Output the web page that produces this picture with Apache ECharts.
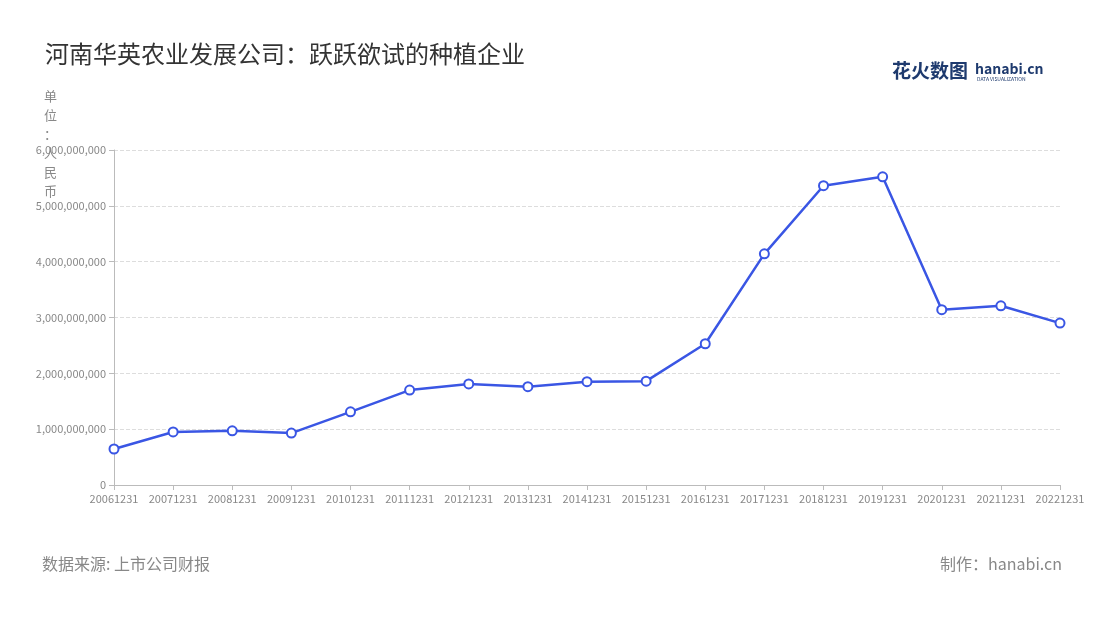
<!DOCTYPE html>
<html><head><meta charset="utf-8">
<script src="https://cdn.jsdelivr.net/npm/echarts@6/dist/echarts.min.js"></script>
<style>html,body{margin:0;background:#fff}#c{width:1100px;height:620px}</style>
</head><body><div id="c"></div>
<script>
const categories = ['20061231','20071231','20081231','20091231','20101231','20111231','20121231','20131231','20141231','20151231','20161231','20171231','20181231','20191231','20201231','20211231','20221231'];
const values = [645e6,950e6,970e6,930e6,1310e6,1700e6,1810e6,1760e6,1850e6,1860e6,2530e6,4140e6,5360e6,5520e6,3140e6,3210e6,2900e6];
const yTicks = {min:0,max:6e9,interval:1e9};
const chart = echarts.init(document.getElementById('c'));
const font = "'Noto Sans CJK SC','Noto Sans',sans-serif";
chart.setOption({
  textStyle:{fontFamily:font},
  title:{text:'河南华英农业发展公司：跃跃欲试的种植企业',left:40,top:37,textStyle:{fontSize:24,fontWeight:'normal',color:'#333',fontFamily:font}},
  graphic:[
    {type:'text',left:44,top:87,style:{text:'单\n位\n：\n人\n民\n币',fill:'#888',fontSize:13,lineHeight:19,fontFamily:font}},
    {type:'text',left:42,top:556,style:{text:'数据来源: 上市公司财报',fill:'#888',fontSize:16,fontFamily:font}},
    {type:'text',right:38,top:556,style:{text:'制作：hanabi.cn',fill:'#888',fontSize:16,fontFamily:font}},
    {type:'text',left:892,top:61,style:{text:'花火数图',fill:'#1e3a6e',fontSize:19,fontWeight:'bold',fontFamily:font}},
    {type:'text',left:975,top:62,style:{text:'hanabi.cn',fill:'#1e3a6e',fontSize:14,fontWeight:'bold',fontFamily:font}},
    {type:'text',left:977,top:77,style:{text:'DATA VISUALIZATION',fill:'#1e3a6e',fontSize:5,fontFamily:font}}
  ],
  grid:{left:114,right:40,top:150,bottom:135},
  xAxis:{type:'category',data:categories,boundaryGap:false,
    axisLine:{lineStyle:{color:'#bbb'}},axisTick:{show:true,lineStyle:{color:'#bbb'}},
    axisLabel:{color:'#888',fontSize:11,interval:0}},
  yAxis:{type:'value',...yTicks,
    axisLine:{show:true,lineStyle:{color:'#bbb'}},axisTick:{show:true,lineStyle:{color:'#bbb'}},
    splitLine:{lineStyle:{type:'dashed',color:'#ddd'}},
    axisLabel:{color:'#888',fontSize:11,formatter:v=>v.toLocaleString('en-US')}},
  series:[{type:'line',data:values,symbol:'circle',symbolSize:9,
    lineStyle:{color:'#3a56e4',width:2.5},
    itemStyle:{color:'#fff',borderColor:'#3a56e4',borderWidth:2}}]
});
</script></body></html>
